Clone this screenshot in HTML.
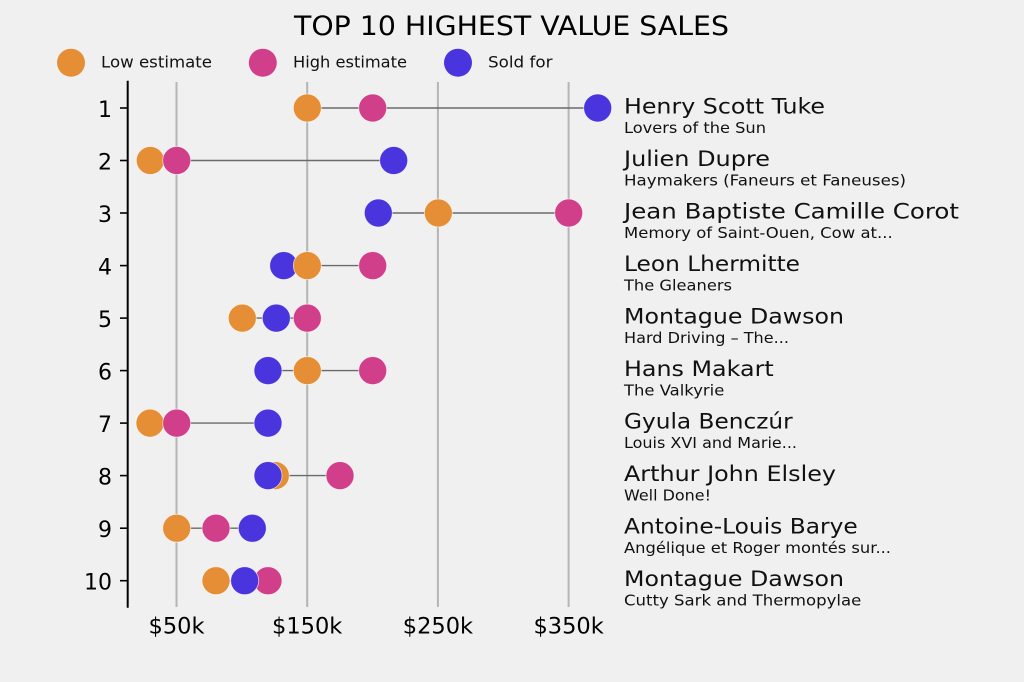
<!DOCTYPE html>
<html>
<head>
<meta charset="utf-8">
<style>
  html, body { margin:0; padding:0; background:#f0f0f0; }
  svg { display:block; }
  .tl { font-family:"DejaVu Sans", "Liberation Sans", sans-serif; fill:#000; }
  .nm { font-family:"DejaVu Sans", "Liberation Sans", sans-serif; fill:#111; font-size:21.5px; }
  .sb { font-family:"DejaVu Sans", "Liberation Sans", sans-serif; fill:#111; font-size:15px; }
  .lg { font-family:"DejaVu Sans", "Liberation Sans", sans-serif; fill:#111; font-size:16px; }
</style>
</head>
<body>
<svg width="1024" height="682" viewBox="0 0 1024 682" xmlns="http://www.w3.org/2000/svg">
  <rect width="1024" height="682" fill="#f0f0f0"/>

  <text class="tl" x="294" y="35" font-size="27" textLength="435" lengthAdjust="spacingAndGlyphs">TOP 10 HIGHEST VALUE SALES</text>

  <circle cx="71" cy="62.7" r="14" fill="#e68e35"/>
  <text class="lg" x="101" y="67.7" textLength="111" lengthAdjust="spacingAndGlyphs">Low estimate</text>
  <circle cx="262.8" cy="62.7" r="14" fill="#d13e8a"/>
  <text class="lg" x="293" y="67.7" textLength="114" lengthAdjust="spacingAndGlyphs">High estimate</text>
  <circle cx="458" cy="62.7" r="14" fill="#4a34dd"/>
  <text class="lg" x="488" y="67.7" textLength="64.5" lengthAdjust="spacingAndGlyphs">Sold for</text>

  <g stroke="#b5b5b5" stroke-width="2">
    <line x1="176.5" y1="82" x2="176.5" y2="607"/>
    <line x1="307.2" y1="82" x2="307.2" y2="607"/>
    <line x1="437.9" y1="82" x2="437.9" y2="607"/>
    <line x1="568.6" y1="82" x2="568.6" y2="607"/>
  </g>

  <line x1="127.7" y1="80.7" x2="127.7" y2="607.7" stroke="#000" stroke-width="2"/>
  <g stroke="#000" stroke-width="1.6">
    <line x1="120" y1="108" x2="127" y2="108"/>
    <line x1="120" y1="160.5" x2="127" y2="160.5"/>
    <line x1="120" y1="213" x2="127" y2="213"/>
    <line x1="120" y1="265.6" x2="127" y2="265.6"/>
    <line x1="120" y1="318.1" x2="127" y2="318.1"/>
    <line x1="120" y1="370.6" x2="127" y2="370.6"/>
    <line x1="120" y1="423.1" x2="127" y2="423.1"/>
    <line x1="120" y1="475.6" x2="127" y2="475.6"/>
    <line x1="120" y1="528.2" x2="127" y2="528.2"/>
    <line x1="120" y1="580.7" x2="127" y2="580.7"/>
  </g>
  <g class="tl" font-size="22" text-anchor="end">
    <text x="112" y="117">1</text>
    <text x="112" y="169.5">2</text>
    <text x="112" y="222">3</text>
    <text x="112" y="274.6">4</text>
    <text x="112" y="327.1">5</text>
    <text x="112" y="379.6">6</text>
    <text x="112" y="432.1">7</text>
    <text x="112" y="484.6">8</text>
    <text x="112" y="537.2">9</text>
    <text x="112" y="589.7">10</text>
  </g>

  <g class="tl" font-size="22.5" text-anchor="middle">
    <text x="176.5" y="633.7">$50k</text>
    <text x="307.2" y="633.7">$150k</text>
    <text x="437.9" y="633.7">$250k</text>
    <text x="568.6" y="633.7">$350k</text>
  </g>

  <g stroke="#6a6a6a" stroke-width="1.4">
    <line x1="307.3" y1="108" x2="597.7" y2="108"/>
    <line x1="150.3" y1="160.5" x2="393.7" y2="160.5"/>
    <line x1="378.3" y1="213" x2="568.7" y2="213"/>
    <line x1="283.7" y1="265.6" x2="372.7" y2="265.6"/>
    <line x1="242.3" y1="318.1" x2="307.3" y2="318.1"/>
    <line x1="268" y1="370.6" x2="372.7" y2="370.6"/>
    <line x1="150" y1="423.1" x2="268" y2="423.1"/>
    <line x1="268" y1="475.6" x2="340" y2="475.6"/>
    <line x1="176.7" y1="528.2" x2="252.3" y2="528.2"/>
    <line x1="216" y1="580.7" x2="268" y2="580.7"/>
  </g>

  <g stroke="#ffffff" stroke-opacity="0.7" stroke-width="0.8">
    <circle cx="307.3" cy="108" r="14" fill="#e68e35"/>
    <circle cx="372.7" cy="108" r="14" fill="#d13e8a"/>
    <circle cx="597.7" cy="108" r="14" fill="#4a34dd"/>

    <circle cx="150.3" cy="160.5" r="14" fill="#e68e35"/>
    <circle cx="176.7" cy="160.5" r="14" fill="#d13e8a"/>
    <circle cx="393.7" cy="160.5" r="14" fill="#4a34dd"/>

    <circle cx="438.3" cy="213" r="14" fill="#e68e35"/>
    <circle cx="568.7" cy="213" r="14" fill="#d13e8a"/>
    <circle cx="378.3" cy="213" r="14" fill="#4a34dd"/>

    <circle cx="283.7" cy="265.6" r="14" fill="#4a34dd"/>
    <circle cx="307.3" cy="265.6" r="14" fill="#e68e35"/>
    <circle cx="372.7" cy="265.6" r="14" fill="#d13e8a"/>

    <circle cx="242.3" cy="318.1" r="14" fill="#e68e35"/>
    <circle cx="276.3" cy="318.1" r="14" fill="#4a34dd"/>
    <circle cx="307.3" cy="318.1" r="14" fill="#d13e8a"/>

    <circle cx="268" cy="370.6" r="14" fill="#4a34dd"/>
    <circle cx="307.3" cy="370.6" r="14" fill="#e68e35"/>
    <circle cx="372.7" cy="370.6" r="14" fill="#d13e8a"/>

    <circle cx="150" cy="423.1" r="14" fill="#e68e35"/>
    <circle cx="176.7" cy="423.1" r="14" fill="#d13e8a"/>
    <circle cx="268" cy="423.1" r="14" fill="#4a34dd"/>

    <circle cx="275.3" cy="475.6" r="14" fill="#e68e35"/>
    <circle cx="340" cy="475.6" r="14" fill="#d13e8a"/>
    <circle cx="268" cy="475.6" r="14" fill="#4a34dd"/>

    <circle cx="176.7" cy="528.2" r="14" fill="#e68e35"/>
    <circle cx="216" cy="528.2" r="14" fill="#d13e8a"/>
    <circle cx="252.3" cy="528.2" r="14" fill="#4a34dd"/>

    <circle cx="216" cy="580.7" r="14" fill="#e68e35"/>
    <circle cx="268" cy="580.7" r="14" fill="#d13e8a"/>
    <circle cx="244.7" cy="580.7" r="14" fill="#4a34dd"/>
  </g>

  <text class="nm" x="624" y="113.5" textLength="201" lengthAdjust="spacingAndGlyphs">Henry Scott Tuke</text>
  <text class="sb" x="624" y="133" textLength="142" lengthAdjust="spacingAndGlyphs">Lovers of the Sun</text>

  <text class="nm" x="624" y="166" textLength="146" lengthAdjust="spacingAndGlyphs">Julien Dupre</text>
  <text class="sb" x="624" y="185.5" textLength="282" lengthAdjust="spacingAndGlyphs">Haymakers (Faneurs et Faneuses)</text>

  <text class="nm" x="624" y="218.5" textLength="335" lengthAdjust="spacingAndGlyphs">Jean Baptiste Camille Corot</text>
  <text class="sb" x="624" y="238" textLength="268.7" lengthAdjust="spacingAndGlyphs">Memory of Saint-Ouen, Cow at...</text>

  <text class="nm" x="624" y="271.1" textLength="176" lengthAdjust="spacingAndGlyphs">Leon Lhermitte</text>
  <text class="sb" x="624" y="290.6" textLength="108" lengthAdjust="spacingAndGlyphs">The Gleaners</text>

  <text class="nm" x="624" y="323.6" textLength="220" lengthAdjust="spacingAndGlyphs">Montague Dawson</text>
  <text class="sb" x="624" y="343.1" textLength="165" lengthAdjust="spacingAndGlyphs">Hard Driving – The...</text>

  <text class="nm" x="624" y="376.1" textLength="149.7" lengthAdjust="spacingAndGlyphs">Hans Makart</text>
  <text class="sb" x="624" y="395.6" textLength="100.3" lengthAdjust="spacingAndGlyphs">The Valkyrie</text>

  <text class="nm" x="624" y="428.6" textLength="168.7" lengthAdjust="spacingAndGlyphs">Gyula Benczúr</text>
  <text class="sb" x="624" y="448.1" textLength="173" lengthAdjust="spacingAndGlyphs">Louis XVI and Marie...</text>

  <text class="nm" x="624" y="481.1" textLength="212" lengthAdjust="spacingAndGlyphs">Arthur John Elsley</text>
  <text class="sb" x="624" y="500.6" textLength="87" lengthAdjust="spacingAndGlyphs">Well Done!</text>

  <text class="nm" x="624" y="533.7" textLength="233.7" lengthAdjust="spacingAndGlyphs">Antoine-Louis Barye</text>
  <text class="sb" x="624" y="553.2" textLength="267" lengthAdjust="spacingAndGlyphs">Angélique et Roger montés sur...</text>

  <text class="nm" x="624" y="586.2" textLength="220" lengthAdjust="spacingAndGlyphs">Montague Dawson</text>
  <text class="sb" x="624" y="605.7" textLength="237.3" lengthAdjust="spacingAndGlyphs">Cutty Sark and Thermopylae</text>
</svg>
</body>
</html>
